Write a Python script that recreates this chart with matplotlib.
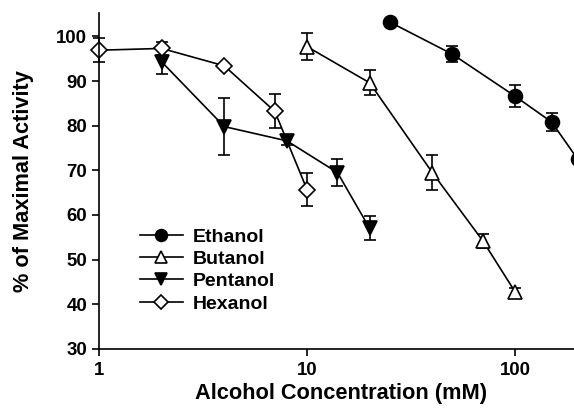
import numpy as np
import matplotlib
matplotlib.use('Agg')
import matplotlib.pyplot as plt

plt.rcParams['font.family'] = ['Liberation Sans', 'DejaVu Sans']
plt.rcParams['font.weight'] = 'bold'

# Ethanol
eth_x = [25, 50, 100, 150, 200]
eth_y = [103.2, 96.0, 86.6, 80.8, 72.5]
eth_e = [0, 1.8, 2.5, 2.0, 0]

# Butanol
but_x = [10, 20, 40, 70, 100]
but_y = [97.7, 89.6, 69.5, 54.2, 42.8]
but_e = [3.0, 2.8, 4.0, 1.5, 0.9]

# Pentanol
pen_x = [2, 4, 8, 14, 20]
pen_y = [94.3, 79.8, 76.6, 69.5, 57.0]
pen_e = [2.7, 6.4, 1.0, 3.0, 2.7]

# Hexanol
hex_x = [1, 2, 4, 7, 10]
hex_y = [96.9, 97.3, 93.4, 83.2, 65.7]
hex_e = [2.7, 1.5, 0, 3.8, 3.8]

fig = plt.figure(figsize=(5.74, 4.11), dpi=100)
ax = fig.add_axes([0.1725, 0.151, 0.8275, 0.817])

style = dict(color='black', lw=1.2, capsize=4.5, capthick=1.2, elinewidth=1.2,
             markeredgewidth=1.2, markeredgecolor='black', clip_on=False)

ax.errorbar(eth_x, eth_y, yerr=eth_e, fmt='-o', ms=10, mfc='black', label='Ethanol', **style)
ax.errorbar(but_x, but_y, yerr=but_e, fmt='-^', ms=10, mfc='white', label='Butanol', **style)
ax.errorbar(pen_x, pen_y, yerr=pen_e, fmt='-v', ms=10, mfc='black', label='Pentanol', **style)
ax.errorbar(hex_x, hex_y, yerr=hex_e, fmt='-D', ms=8, mfc='white', label='Hexanol', **style)

ax.set_xscale('log')
ax.set_xlim(1, 192)
ax.set_ylim(30, 105.2)
ax.set_xticks([1, 10, 100])
ax.set_xticklabels(['1', '10', '100'])
ax.xaxis.set_minor_locator(matplotlib.ticker.NullLocator())
ax.set_yticks(range(30, 101, 10))

for s in ['top', 'right']:
    ax.spines[s].set_visible(False)
for s in ['left', 'bottom']:
    ax.spines[s].set_linewidth(1.2)
ax.tick_params(axis='both', direction='out', length=5, width=1.2, labelsize=13.4)
ax.tick_params(axis='x', pad=4.5)

ax.set_xlabel('Alcohol Concentration (mM)', fontsize=15.7, fontweight='bold')
ax.set_ylabel('% of Maximal Activity', fontsize=15.7, fontweight='bold')
ax.xaxis.set_label_coords(0.509, -0.101)
ax.yaxis.set_label_coords(-0.137, 0.5)

# legend without the error bar glyphs
handles, labels = ax.get_legend_handles_labels()
handles = [h[0] for h in handles]
leg = ax.legend(handles, labels, loc='upper left', bbox_to_anchor=(0.086, 0.36),
                frameon=False, fontsize=14, handlelength=2.2, handletextpad=0.5,
                labelspacing=0.24, borderpad=0, borderaxespad=0, markerscale=0.85)

fig.savefig('out.png', dpi=100)
